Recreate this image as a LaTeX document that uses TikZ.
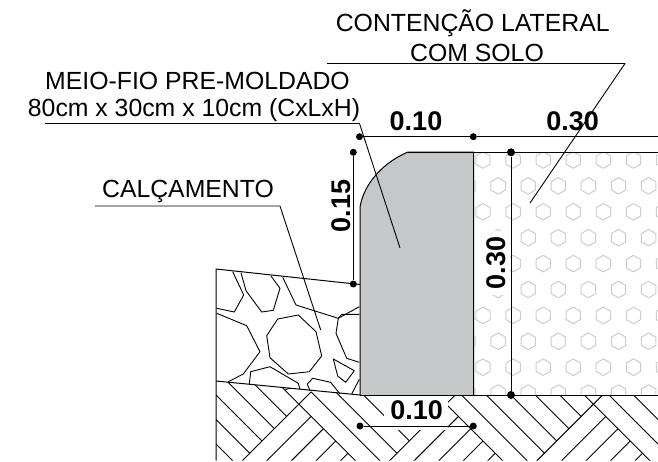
\documentclass[tikz,border=0pt]{standalone}
\usepackage{fontspec}
\setmainfont{Liberation Sans}
\definecolor{curbgray}{HTML}{C6C7C9}
\definecolor{hexgray}{HTML}{CCCCCC}
\newcommand{\hexa}[2]{\draw[hexline] ({#1},{#2})+(90:8.3) -- +(150:8.3) -- +(210:8.3) -- +(270:8.3) -- +(330:8.3) -- +(30:8.3) -- cycle;}
\begin{document}
\begin{tikzpicture}[x=1pt,y=-1pt,line join=round]
    \tikzset{hexline/.style={draw=hexgray,line width=1pt},
        outline/.style={draw=black,line width=1pt},
        hatchline/.style={draw=black,line width=0.9pt},
        dimline/.style={draw=black,line width=1pt},
        leader/.style={draw=black,line width=0.9pt},
        dimdot/.style={circle,fill=black,inner sep=0pt,minimum size=7pt},
        callout/.style={font=\fontsize{24.8}{28}\selectfont,anchor=base,inner sep=0pt},
        measure/.style={font=\fontsize{27}{30}\selectfont\bfseries,anchor=base,inner sep=0pt}}
    \useasboundingbox (0,0) rectangle (658,461);
    \begin{scope}
        \clip (473.5,152) rectangle (658,395);
        \foreach \r in {0,2,4,6,8}{
            \foreach \c in {0,...,6}{
                \hexa{483+30.1*\c}{160+25.9*\r}
                \hexa{468+30.1*\c}{160+25.9*(\r+1)}
            }
        }
    \end{scope}
    \fill[white] (474,231) rectangle (510,295);
    \filldraw[fill=curbgray,outline] (360,395) -- (360,207) .. controls (364,183) and (384,162) .. (408,152) -- (473.5,152) -- (473.5,395);
    \begin{scope}
        \clip (216,381) -- (360,395) -- (658,395) -- (658,460.5) -- (216,460.5) -- cycle;
        \foreach \m in {-6,0,6,12}{
            \foreach \i in {0,...,5}{
                \pgfmathsetmacro\a{-80.7+24.55*(\m+\i)}
                \pgfmathsetmacro\sa{703+24.55*\m}
                \pgfmathsetmacro\sb{703+24.55*(\m+6+6*(\i==5))}
                \draw[hatchline] ({(\sa+\a)/2},{(\sa-\a)/2}) -- ({(\sb+\a)/2},{(\sb-\a)/2});
                \pgfmathsetmacro\s{703+24.55*(\m+\i)}
                \pgfmathsetmacro\b{-80.7+24.55*(\m-(\i>0))}
                \pgfmathsetmacro\e{\s-960}
                \draw[hatchline] ({(\s+\b)/2},{(\s-\b)/2}) -- ({(\s+\e)/2},{(\s-\e)/2});
            }
        }
    \end{scope}
    \fill[white] (384,395.7) rectangle (448,430);
    \draw[outline] (360,395) -- (658,395);
    \draw[outline] (408,152) -- (658,152);
    \draw[outline] (216,460.5) -- (216,269) -- (360,284.5);
    \draw[outline] (216,381) -- (360,395);
    \draw[hatchline] (232.7,271.7) -- (243.7,295) -- (234.3,312) -- (216.7,308.3);
    \draw[hatchline] (241,272.7) -- (246,290.7) -- (261.7,312) -- (273.3,310.3) -- (280,288.3) -- (271,276);
    \draw[hatchline] (282.7,277.3) -- (296,305) -- (338.3,318.3) -- (359.3,306.7);
    \draw[hatchline] (338.3,318.3) -- (341.7,314.3) -- (359.3,314.3);
    \draw[hatchline] (338.3,318.3) -- (336,333.3) -- (346.7,358.3) -- (359.3,362.3);
    \draw[hatchline] (216.7,313.3) -- (246.7,325.7) -- (260,351.7) -- (243.3,374) -- (228.3,381.7);
    \draw[hatchline] (277.7,319) -- (298.3,315) -- (316,331.7) -- (321.7,356) -- (309.3,371.7) -- (288.3,374) -- (270,357.7) -- (266.7,335.7) -- cycle;
    \draw[hatchline] (249.3,384) -- (250.7,371.7) -- (270,366.7) -- (298.3,383.3) -- (300,389.3);
    \draw[hatchline] (333.3,359) -- (354.3,370.7) -- (345.7,382.3) -- (337.7,376) -- cycle;
    \draw[hatchline] (310,390.7) -- (307.3,384) -- (312.7,378.3) -- (330.7,382.3) -- (340,394);
    \draw[hatchline] (351.7,394) -- (359.3,379.3);
    \draw[hatchline] (285,390) -- (290,388);
    \node[dimdot] (topA) at (359.5,136.7) {};
    \node[dimdot] (topB) at (473.3,136.7) {};
    \coordinate (topC) at (658,136.7);
    \node[dimdot] (sideA) at (353.3,152.3) {};
    \node[dimdot] (sideB) at (353.3,284) {};
    \node[dimdot,minimum size=8pt] (soilA) at (511,152.3) {};
    \node[dimdot,minimum size=8pt] (soilB) at (511,395) {};
    \node[dimdot] (baseA) at (360,426) {};
    \node[dimdot] (baseB) at (473.3,426) {};
    \draw[dimline] (topA) -- (topB) -- (topC);
    \draw[dimline] (sideA) -- (sideB);
    \draw[dimline] (soilA) -- (soilB);
    \draw[dimline] (baseA) -- (baseB);
    \coordinate (meioA) at (45,123.5);
    \coordinate (meioB) at (359.5,123.5);
    \coordinate (meioC) at (400,248);
    \coordinate (calcA) at (95,206);
    \coordinate (calcB) at (280,206);
    \coordinate (calcC) at (320.7,330);
    \coordinate (contA) at (327,63.5);
    \coordinate (contB) at (625,63.5);
    \coordinate (contC) at (530,203);
    \draw[leader] (meioA) -- (meioB) -- (meioC);
    \draw[leader] (calcA) -- (calcB) -- (calcC);
    \draw[leader] (contA) -- (contB) -- (contC);
    \node[callout] (contText) at (472.7,31.7) {CONTENÇÃO LATERAL};
    \node[callout] (soloText) at (477,61.5) {COM SOLO};
    \node[callout] (meioText) at (197.5,89) {MEIO-FIO PRE-MOLDADO};
    \node[callout] (sizeText) at (194,116.7) {80cm x 30cm x 10cm (CxLxH)};
    \node[callout] (calcText) at (188,197) {CALÇAMENTO};
    \node[measure] (topTen) at (416,130.7) {0.10};
    \node[measure] (topThirty) at (572.7,130.7) {0.30};
    \node[measure,rotate=90] (sideTen) at (350,206) {0.15};
    \node[measure,rotate=90] (soilThirty) at (505.7,263) {0.30};
    \node[measure] (baseTen) at (416.7,419.3) {0.10};
\end{tikzpicture}
\end{document}
